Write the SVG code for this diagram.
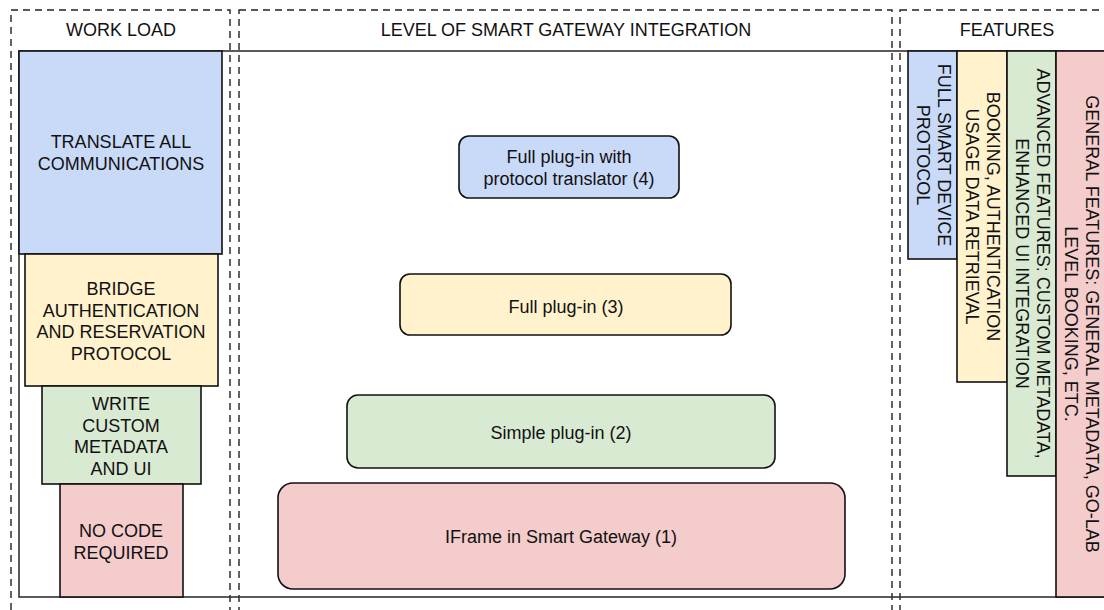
<svg xmlns="http://www.w3.org/2000/svg" width="1104" height="610" viewBox="0 0 1104 610">
<style>
.dash{fill:none;stroke:#222;stroke-width:1.4;stroke-dasharray:7 5}
.frame{fill:none;stroke:#333;stroke-width:1.6}
.box{stroke:#111;stroke-width:1.6}
.t{font-family:"Liberation Sans",Arial,sans-serif;font-size:18px;fill:#111;text-anchor:middle}
.blue{fill:#c9daf8}.yellow{fill:#fff2cc}.green{fill:#d9ead3}.pink{fill:#f4cccc}
</style>
<rect width="1104" height="610" fill="#fff"/>
<g id="sections">
<rect class="dash" x="11" y="10" width="219" height="615"/>
<rect class="dash" x="239" y="10" width="653" height="615"/>
<rect class="dash" x="900" y="10" width="220" height="615"/>
<text class="t" x="121" y="36">WORK LOAD</text>
<text class="t" x="566" y="36">LEVEL OF SMART GATEWAY INTEGRATION</text>
<text class="t" x="1007" y="36">FEATURES</text>
<rect class="frame" x="19" y="51" width="1100" height="546"/>
</g>
<g id="workload">
<g id="wl-translate"><rect class="box blue" x="19" y="51" width="203" height="203"/>
<text class="t" x="121" y="148">TRANSLATE ALL<tspan x="121" dy="22">COMMUNICATIONS</tspan></text></g>
<g id="wl-bridge"><rect class="box yellow" x="25" y="254" width="193" height="132"/>
<text class="t" x="121" y="295">BRIDGE<tspan x="121" dy="21.5">AUTHENTICATION</tspan><tspan x="121" dy="21.5">AND RESERVATION</tspan><tspan x="121" dy="21.5">PROTOCOL</tspan></text></g>
<g id="wl-custom"><rect class="box green" x="42" y="386" width="159" height="98"/>
<text class="t" x="121" y="410">WRITE<tspan x="121" dy="21.5">CUSTOM</tspan><tspan x="121" dy="21.5">METADATA</tspan><tspan x="121" dy="21.5">AND UI</tspan></text></g>
<g id="wl-nocode"><rect class="box pink" x="60" y="484" width="123" height="113"/>
<text class="t" x="121" y="537">NO CODE<tspan x="121" dy="21.5">REQUIRED</tspan></text></g>
</g>
<g id="levels">
<g id="level4"><rect class="box blue" x="459" y="136" width="220" height="62" rx="10"/>
<text class="t" x="569" y="163">Full plug-in with<tspan x="569" dy="22">protocol translator (4)</tspan></text></g>
<g id="level3"><rect class="box yellow" x="400" y="274" width="331" height="61" rx="10"/>
<text class="t" x="566" y="313">Full plug-in (3)</text></g>
<g id="level2"><rect class="box green" x="347" y="395" width="428" height="73" rx="11"/>
<text class="t" x="561" y="439">Simple plug-in (2)</text></g>
<g id="level1"><rect class="box pink" x="278" y="483" width="567" height="106" rx="15"/>
<text class="t" x="561" y="543">IFrame in Smart Gateway (1)</text></g>
</g>
<g id="features">
<g id="f-full"><rect class="box blue" x="908" y="51" width="49" height="208"/>
<text class="t" transform="translate(932.5 155) rotate(90)" y="-5">FULL SMART DEVICE<tspan x="0" dy="21">PROTOCOL</tspan></text></g>
<g id="f-booking"><rect class="box yellow" x="957" y="51" width="50" height="331"/>
<text class="t" transform="translate(982 216.5) rotate(90)" y="-5">BOOKING, AUTHENTICATION<tspan x="0" dy="21">USAGE DATA RETRIEVAL</tspan></text></g>
<g id="f-advanced"><rect class="box green" x="1007" y="51" width="49" height="425"/>
<text class="t" transform="translate(1031.5 263.5) rotate(90)" y="-5">ADVANCED FEATURES: CUSTOM METADATA,<tspan x="0" dy="21">ENHANCED UI INTEGRATION</tspan></text></g>
<g id="f-general"><rect class="box pink" x="1056" y="51" width="60" height="546"/>
<text class="t" transform="translate(1081 324) rotate(90)" y="-5">GENERAL FEATURES: GENERAL METADATA, GO-LAB<tspan x="0" dy="21">LEVEL BOOKING, ETC.</tspan></text></g>
</g>
<g id="connectors"></g>
</svg>
